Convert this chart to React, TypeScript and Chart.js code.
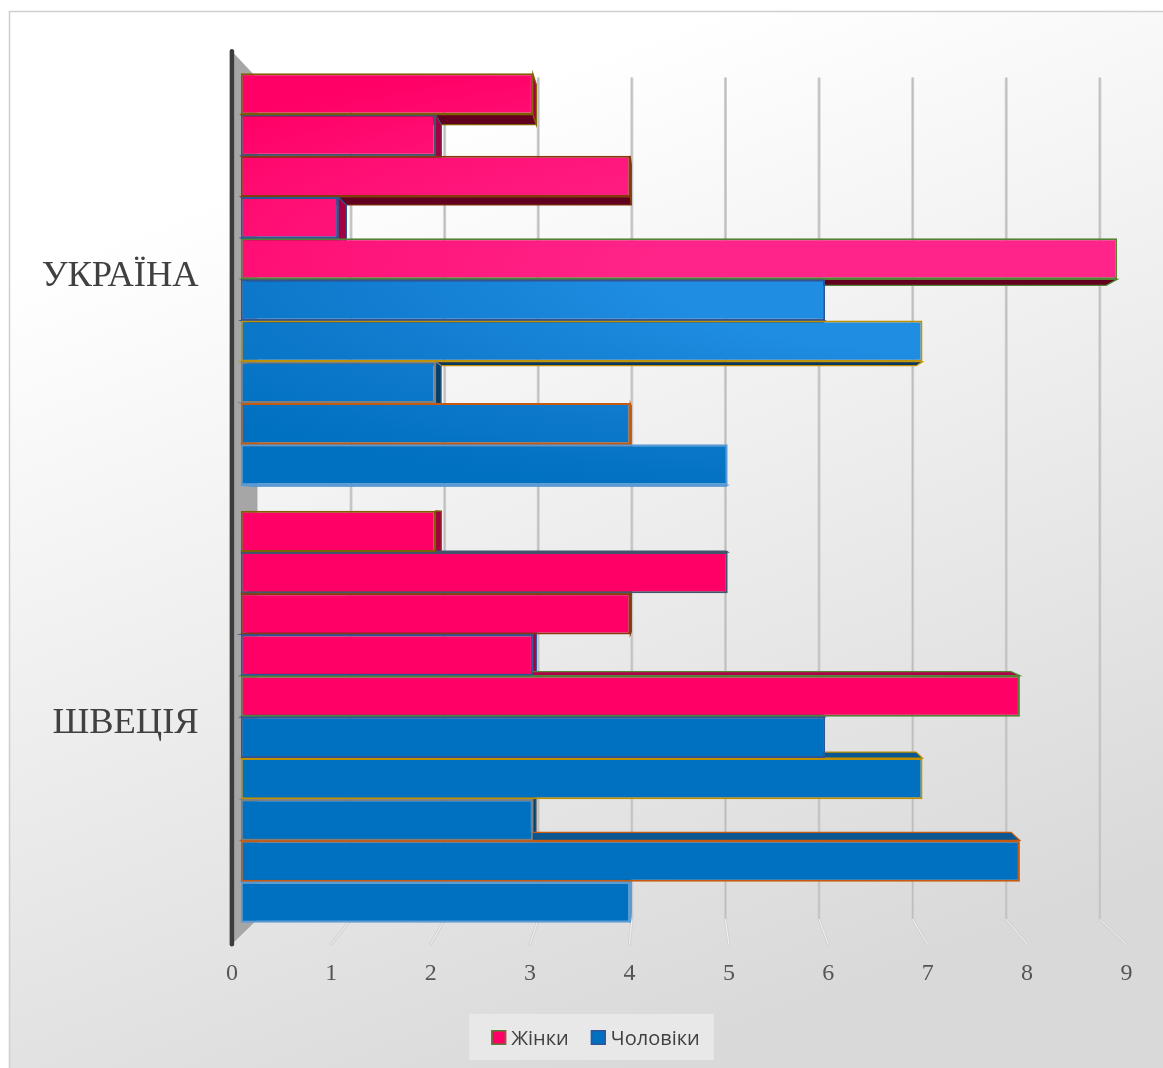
import { useEffect, useRef } from 'react';
import { Chart, registerables } from 'chart.js';

Chart.register(...registerables);

// ---- data ----
const categories = ['УКРАЇНА', 'ШВЕЦІЯ'];
const seriesNames = ['Жінки', 'Чоловіки'];
const womenUkraine = [3, 2, 4, 1, 9];
const womenSweden = [2, 5, 4, 3, 8];
const menUkraine = [6, 7, 2, 4, 5];
const menSweden = [6, 7, 3, 8, 4];
const xTicks = [0, 1, 2, 3, 4, 5, 6, 7, 8, 9];

// ---- styling ----
const W = 1163;
const H = 1068;
const outlineColors = [
  '#7f6000', '#44546a', '#843c0c', '#2f5597', '#548235',
  '#2f5597', '#bf9000', '#7f7f7f', '#c55a11', '#5b9bd5',
];
const PINK = { base: '#ff0066', mid: '#ff1278', light: '#ff2489', right: '#a3003f', top: '#b0004a', bottom: '#62001f' };
const BLUE = { base: '#0070c0', mid: '#107acd', light: '#1f8de2', right: '#00406e', top: '#0a5690', bottom: '#08365e' };
// perspective factors relative to the plane of the bar front faces
const K_BACK = 0.961;
const K_FRONT = 1.0205;
const K_DEPTH = 0.975;
const SERIF = '"Liberation Serif", "Times New Roman", serif';
const SANS = '"Open Sans", "Noto Sans", sans-serif';

function proj(chart: any, x: number, y: number, k: number): [number, number] {
  const a = chart.chartArea;
  const cx = a.left + 0.49 * (a.right - a.left);
  const cy = a.top + 0.523 * (a.bottom - a.top);
  return [cx + (x - cx) * k, cy + (y - cy) * k];
}

// soft elliptical highlight across the upper part of the plot, baked into a pattern
const fillCache = new WeakMap<any, Record<string, CanvasPattern | string>>();
function barFill(chart: any, pal: typeof PINK) {
  const a = chart.chartArea;
  if (!a) return pal.base;
  let cache = fillCache.get(chart);
  const key = `${pal.base}|${a.left}|${a.top}|${a.right}|${a.bottom}`;
  if (cache && cache[key]) return cache[key];
  if (!cache) {
    cache = {};
    fillCache.set(chart, cache);
  }
  const w = a.right - a.left;
  const h = a.bottom - a.top;
  const off = document.createElement('canvas');
  off.width = chart.width;
  off.height = chart.height;
  const o = off.getContext('2d')!;
  const rx = 1.14 * w;
  const ry = 0.274 * h;
  o.translate(a.left + 0.866 * w, a.top + 0.239 * h);
  o.scale(rx / ry, 1);
  const g = o.createRadialGradient(0, 0, 0, 0, 0, ry);
  g.addColorStop(0, pal.light);
  g.addColorStop(0.35, pal.light);
  g.addColorStop(0.7, pal.mid);
  g.addColorStop(1, pal.base);
  o.fillStyle = g;
  o.fillRect(-4000, -4000, 8000, 8000);
  const pat = chart.ctx.createPattern(off, 'no-repeat') || pal.base;
  cache[key] = pat;
  return pat;
}

function poly(ctx: CanvasRenderingContext2D, pts: number[][], fill: string, stroke: string) {
  ctx.beginPath();
  ctx.moveTo(pts[0][0], pts[0][1]);
  for (let i = 1; i < pts.length; i++) ctx.lineTo(pts[i][0], pts[i][1]);
  ctx.closePath();
  ctx.fillStyle = fill;
  ctx.fill();
  ctx.strokeStyle = stroke;
  ctx.lineWidth = 1.2;
  ctx.stroke();
}

const backgroundPlugin = {
  id: 'frameBackground',
  beforeDraw(chart: any) {
    const ctx = chart.ctx as CanvasRenderingContext2D;
    ctx.save();
    const g = ctx.createLinearGradient(250, 0, 650, chart.height);
    g.addColorStop(0, '#ffffff');
    g.addColorStop(0.15, '#ffffff');
    g.addColorStop(1, '#d9d9d9');
    ctx.fillStyle = g;
    ctx.fillRect(9, 11, chart.width - 9, chart.height - 11);
    ctx.strokeStyle = '#cfcfcf';
    ctx.lineWidth = 1.5;
    ctx.strokeRect(9.5, 11.5, chart.width + 10, chart.height + 10);
    ctx.restore();
  },
};

const wallsPlugin = {
  id: 'walls3d',
  beforeDatasetsDraw(chart: any) {
    const ctx = chart.ctx as CanvasRenderingContext2D;
    const a = chart.chartArea;
    const xs = chart.scales.x;
    ctx.save();

    // back-wall gridlines and floor lines
    xTicks.forEach((v) => {
      if (v === 0) return;
      const px = xs.getPixelForValue(v);
      const [bx, bTop] = proj(chart, px, a.top, K_BACK);
      const [, bBot] = proj(chart, px, a.bottom, K_BACK);
      const [fx, fBot] = proj(chart, px, a.bottom, K_FRONT);
      ctx.lineCap = 'round';
      ctx.strokeStyle = '#d2d2d2';
      ctx.lineWidth = 3;
      ctx.beginPath();
      ctx.moveTo(bx, bTop);
      ctx.lineTo(bx, bBot);
      ctx.lineTo(fx, fBot);
      ctx.stroke();
      ctx.strokeStyle = '#bdbdbd';
      ctx.lineWidth = 1.2;
      ctx.beginPath();
      ctx.moveTo(bx, bTop);
      ctx.lineTo(bx, bBot);
      ctx.stroke();
      ctx.strokeStyle = '#f2f2f2';
      ctx.lineWidth = 1;
      ctx.beginPath();
      ctx.moveTo(bx, bBot);
      ctx.lineTo(fx, fBot);
      ctx.stroke();
    });

    // left side wall
    const x0 = xs.getPixelForValue(0);
    const ft = proj(chart, x0, a.top, K_FRONT);
    const bt = proj(chart, x0, a.top, K_BACK);
    const bb = proj(chart, x0, a.bottom, K_BACK);
    const fb = proj(chart, x0, a.bottom, K_FRONT);
    ctx.beginPath();
    ctx.moveTo(ft[0], ft[1]);
    ctx.lineTo(bt[0], bt[1]);
    ctx.lineTo(bb[0], bb[1]);
    ctx.lineTo(fb[0], fb[1]);
    ctx.closePath();
    ctx.fillStyle = '#a6a6a6';
    ctx.fill();
    ctx.strokeStyle = '#3c3c3c';
    ctx.lineWidth = 4.5;
    ctx.lineCap = 'round';
    ctx.beginPath();
    ctx.moveTo(ft[0], ft[1]);
    ctx.lineTo(fb[0], fb[1]);
    ctx.stroke();

    // side faces of the bars (the front faces are drawn by the bar elements)
    chart.data.datasets.forEach((ds: any, i: number) => {
      const meta = chart.getDatasetMeta(i);
      const pal = i < womenUkraine.length ? PINK : BLUE;
      const edge = outlineColors[i];
      meta.data.forEach((el: any) => {
        const p = el.getProps(['x', 'y', 'base', 'height'], true);
        const l = Math.min(p.base, p.x);
        const r = Math.max(p.base, p.x);
        const t = p.y - p.height / 2;
        const b = p.y + p.height / 2;
        const [bl, bt2] = proj(chart, l, t, K_DEPTH);
        const [br, bb2] = proj(chart, r, b, K_DEPTH);
        if (bb2 > b) {
          poly(ctx, [[l, b], [r, b], [br, bb2], [bl, bb2]], pal.bottom, edge);
        }
        if (bt2 < t) {
          poly(ctx, [[l, t], [r, t], [br, bt2], [bl, bt2]], pal.top, edge);
        }
        if (br > r) {
          poly(ctx, [[r, t], [br, bt2], [br, bb2], [r, b]], pal.right, edge);
        }
      });
    });
    ctx.restore();
  },
};

const labelsPlugin = {
  id: 'axisLabels3d',
  afterDraw(chart: any) {
    const ctx = chart.ctx as CanvasRenderingContext2D;
    const a = chart.chartArea;
    const xs = chart.scales.x;
    const ys = chart.scales.y;
    ctx.save();

    // value axis labels on the front edge of the floor
    ctx.font = `24px ${SERIF}`;
    ctx.fillStyle = '#555555';
    ctx.textAlign = 'center';
    ctx.textBaseline = 'alphabetic';
    xTicks.forEach((v) => {
      const [fx, fy] = proj(chart, xs.getPixelForValue(v), a.bottom, K_FRONT);
      ctx.fillText(String(v), fx, fy + 36);
    });

    // category labels
    ctx.font = `36.5px ${SERIF}`;
    ctx.fillStyle = '#404040';
    ctx.textAlign = 'right';
    categories.forEach((c, i) => {
      const [, cy] = proj(chart, a.left, ys.getPixelForValue(i), K_FRONT);
      ctx.fillText(c, a.left - 42, cy + 12);
    });

    // legend
    ctx.font = `20px ${SANS}`;
    const src = [chart.data.datasets[womenUkraine.length - 1], chart.data.datasets[womenUkraine.length]];
    const widths = seriesNames.map((n) => ctx.measureText(n).width);
    const box = 15;
    const gap = 5;
    const itemGap = 22;
    const total = widths.reduce((s, w) => s + box + gap + w, 0) + itemGap * (widths.length - 1);
    const cx = chart.width / 2 + 14;
    const legTop = 1014;
    ctx.fillStyle = '#e8e8e8';
    ctx.fillRect(cx - total / 2 - 22, legTop, total + 36, 46);
    let x = cx - total / 2;
    const fills = [PINK.base, BLUE.base];
    seriesNames.forEach((n, i) => {
      ctx.fillStyle = fills[i];
      ctx.fillRect(x, legTop + 16, box, box);
      ctx.strokeStyle = src[i].borderColor;
      ctx.lineWidth = 1.5;
      ctx.strokeRect(x + 0.75, legTop + 16.75, box - 1.5, box - 1.5);
      ctx.fillStyle = '#404040';
      ctx.textAlign = 'left';
      ctx.fillText(n, x + box + gap, legTop + 31);
      x += box + gap + widths[i] + itemGap;
    });
    ctx.restore();
  },
};

export default function App() {
  const ref = useRef<HTMLCanvasElement | null>(null);

  useEffect(() => {
    document.body.style.margin = '0';
    const canvas = ref.current;
    if (!canvas) return;

    const datasets = [
      ...womenUkraine.map((v, i) => ({
        label: seriesNames[0],
        data: [v, womenSweden[i]],
        backgroundColor: (c: any) => barFill(c.chart, PINK),
        borderColor: outlineColors[i],
      })),
      ...menUkraine.map((v, i) => ({
        label: seriesNames[1],
        data: [v, menSweden[i]],
        backgroundColor: (c: any) => barFill(c.chart, BLUE),
        borderColor: outlineColors[womenUkraine.length + i],
      })),
    ];

    const chart = new Chart(canvas, {
      type: 'bar',
      data: { labels: categories, datasets },
      options: {
        indexAxis: 'y',
        responsive: false,
        animation: false,
        devicePixelRatio: 1,
        layout: { padding: { left: 240.7, right: 45.7, top: 60.6, bottom: 132.4 } },
        datasets: {
          bar: {
            categoryPercentage: 0.9417,
            barPercentage: 1,
            borderWidth: 2,
            borderSkipped: false,
          },
        },
        scales: {
          x: { type: 'linear', min: 0, max: 9, display: false },
          y: { type: 'category', display: false, offset: true },
        },
        plugins: {
          legend: { display: false },
          tooltip: { enabled: false },
        },
      },
      plugins: [backgroundPlugin, wallsPlugin, labelsPlugin],
    } as any);

    return () => chart.destroy();
  }, []);

  return <canvas ref={ref} width={W} height={H} style={{ display: 'block', width: W, height: H }} />;
}
